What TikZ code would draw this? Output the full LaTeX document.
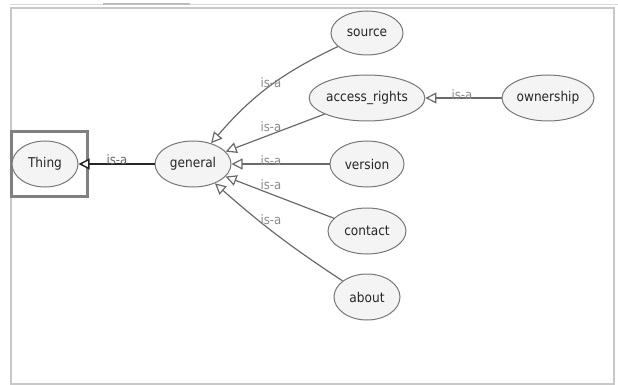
\documentclass[tikz,border=0pt]{standalone}
\usepackage{fontspec}
\setmainfont{DejaVu Sans Condensed}
\usetikzlibrary{arrows.meta,shapes.geometric}
\definecolor{nodefill}{HTML}{F4F4F4}
\definecolor{nodeline}{HTML}{777777}
\definecolor{edgecol}{HTML}{6A6A6A}
\definecolor{lblcol}{HTML}{8A8A8A}
\definecolor{framecol}{HTML}{C8C8C8}
\tikzset{
  cls/.style={ellipse, draw=nodeline, fill=nodefill, line width=1pt, inner sep=0pt, font=\fontsize{13.5}{15}\selectfont, text=black!85},
  isa/.style={draw=edgecol, line width=1.2pt, -{Triangle[open, length=11pt, width=11pt, fill=white]}},
  lbl/.style={text=lblcol, font=\fontsize{13}{15}\selectfont, inner sep=0pt},
}
\begin{document}
\begin{tikzpicture}[x=1pt,y=1pt]
\useasboundingbox (0,0) rectangle (618,-385);
% window frame
\draw[color=framecol!70, line width=1.5pt] (10,-4.5) -- (618,-4.5);
\draw[color=framecol!120, line width=2pt] (103,-4) -- (190,-4);
\draw[color=framecol, line width=1.5pt] (11,-8) rectangle (614,-384);
% selection box around Thing
\draw[color=black!50, line width=3pt] (11,-132) rectangle (87,-196);
% nodes
\node[cls, minimum width=66pt, minimum height=46pt] (thing) at (45,-164) {Thing};
\node[cls, minimum width=76pt, minimum height=46pt] (general) at (193,-164) {general};
\node[cls, minimum width=72pt, minimum height=44pt] (source) at (367,-33) {source};
\node[cls, minimum width=114pt, minimum height=46pt] (access) at (367,-98) {access\_rights};
\node[cls, minimum width=92pt, minimum height=46pt] (owner) at (548,-98) {ownership};
\node[cls, minimum width=74pt, minimum height=46pt] (version) at (367,-164) {version};
\node[cls, minimum width=78pt, minimum height=46pt] (contact) at (367,-231) {contact};
\node[cls, minimum width=66pt, minimum height=46pt] (about) at (367,-297) {about};
% edges
\draw[isa] (source) to[bend right=12] (general);
\draw[isa] (access) -- (general);
\draw[isa] (version) -- (general);
\draw[isa] (contact) -- (general);
\draw[isa] (about) to[bend left=4] (general);
\draw[isa] (owner) -- (access);
\draw[draw=black!85, line width=2.2pt, -{Triangle[open, length=11pt, width=11pt, fill=white, line width=1.5pt]}] (general) -- (thing);
% labels
\node[lbl] (l1) at (271,-83) {is-a};
\node[lbl] (l2) at (271,-127) {is-a};
\node[lbl] (l3) at (271,-161) {is-a};
\node[lbl] (l4) at (271,-185) {is-a};
\node[lbl] (l5) at (271,-220) {is-a};
\node[lbl] (l6) at (462,-95) {is-a};
\node[lbl, text=black!60] (l7) at (117,-160) {is-a};
\end{tikzpicture}
\end{document}
